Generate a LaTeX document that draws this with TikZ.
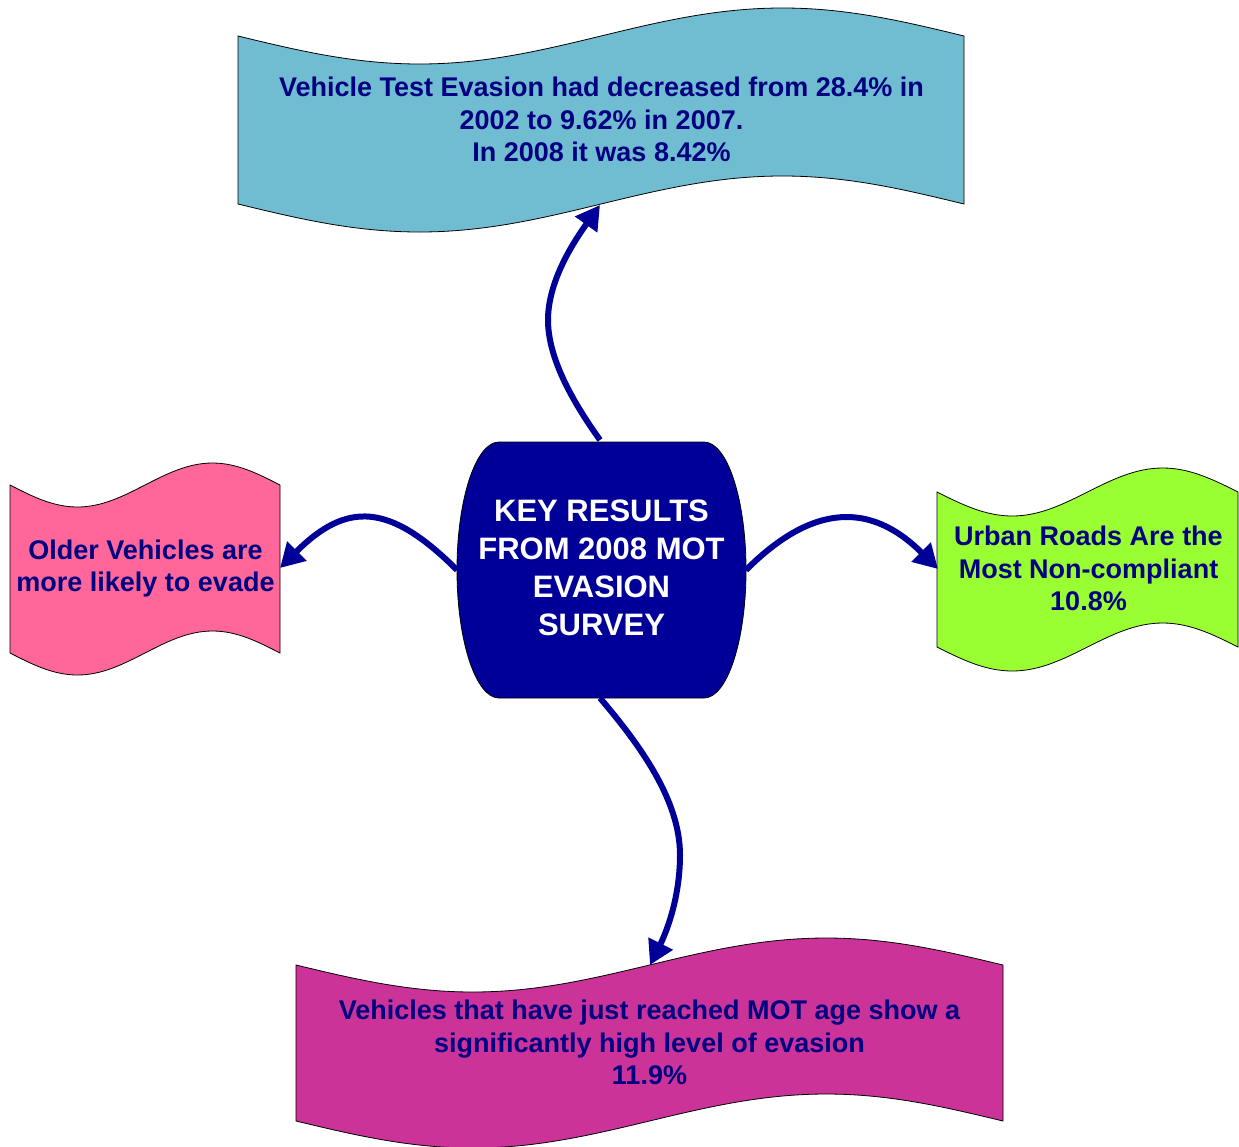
\documentclass[tikz,border=0pt]{standalone}
\usepackage{fontspec}
\setmainfont{Liberation Sans}
\usetikzlibrary{arrows.meta}
\definecolor{topfill}{HTML}{70BDD1}
\definecolor{pinkfill}{HTML}{FF6699}
\definecolor{greenfill}{HTML}{99FF33}
\definecolor{magfill}{HTML}{CC3399}
\definecolor{centerfill}{HTML}{000099}
\definecolor{txtnavy}{HTML}{000080}
\definecolor{arrowblue}{HTML}{000099}
\tikzset{
  wavebox/.style={draw=black, line width=0.8pt},
  lbl/.style={text=txtnavy, font=\bfseries\fontsize{27}{32.5}\selectfont, align=center, inner sep=0pt},
  centerlbl/.style={text=white, font=\bfseries\fontsize{31}{38}\selectfont, align=center, inner sep=0pt},
  conn/.style={draw=arrowblue, line width=6pt, -{Triangle[length=24pt,width=26pt]}},
}
% #1 left x, #2 right x, #3 top y, #4 bottom y, #5 amplitude, #6 fill
\newcommand\wavepath[6]{%
  \path[wavebox, fill=#6] (#1,#3)
    sin ({#1+(#2-#1)/4},{#3+#5}) cos ({(#1+#2)/2},#3)
    sin ({#1+3*(#2-#1)/4},{#3-#5}) cos (#2,#3)
    -- (#2,#4)
    sin ({#1+3*(#2-#1)/4},{#4-#5}) cos ({(#1+#2)/2},#4)
    sin ({#1+(#2-#1)/4},{#4+#5}) cos (#1,#4)
    -- cycle;}
\begin{document}
\begin{tikzpicture}[x=1pt,y=-1pt]
\useasboundingbox (0,0) rectangle (1239,1146);
\fill[white] (0,0) rectangle (1239,1146);

% wave shapes
\wavepath{238}{964}{36}{204}{28}{topfill}
\wavepath{10}{280}{485}{653}{22}{pinkfill}
\wavepath{937}{1238}{492}{647}{24}{greenfill}
\wavepath{296}{1003}{965}{1121}{27}{magfill}

% centre shape
\path[draw=black, line width=0.8pt, fill=centerfill]
  (499,442) -- (704,442)
  .. controls (727.2,442) and (746,499.3) .. (746,570)
  .. controls (746,640.7) and (727.2,698) .. (704,698)
  -- (499,698)
  .. controls (475.8,698) and (457,640.7) .. (457,570)
  .. controls (457,499.3) and (475.8,442) .. (499,442) -- cycle;

% texts
\node[lbl] (topt) at (601.5,119.5) {Vehicle Test Evasion had decreased from 28.4\% in\\2002 to 9.62\% in 2007.\\In 2008 it was 8.42\%};
\node[lbl] (leftt) at (145.5,568.5) {Older Vehicles are\\more likely to evade};
\node[lbl] (rightt) at (1088.5,568.5) {Urban Roads Are the\\Most Non-compliant\\10.8\%};
\node[lbl] (bott) at (649.5,1042.5) {Vehicles that have just reached MOT age show a\\significantly high level of evasion\\11.9\%};
\node[centerlbl] (ctr) at (601.5,567.5) {KEY RESULTS\\FROM 2008 MOT\\EVASION\\SURVEY};

% connector end points
\coordinate (ctrN) at (600,440);
\coordinate (ctrW) at (457,570);
\coordinate (ctrE) at (746,570);
\coordinate (ctrS) at (600,698);
\coordinate (tipN) at (600,205);
\coordinate (tipW) at (280,568);
\coordinate (tipE) at (938,569);
\coordinate (tipS) at (650,965);

% connectors
\draw[conn] (ctrN) .. controls (575,405) and (548,360) .. (548,320)
  .. controls (548,280) and (575,240) .. (tipN);
\draw[conn] (ctrW) .. controls (390,503) and (347,501) .. (tipW);
\draw[conn] (ctrE) .. controls (813,503) and (871,502) .. (tipE);
\draw[conn] (ctrS) .. controls (640,745) and (680,800) .. (680,855)
  .. controls (680,900) and (665,935) .. (tipS);
\end{tikzpicture}
\end{document}
